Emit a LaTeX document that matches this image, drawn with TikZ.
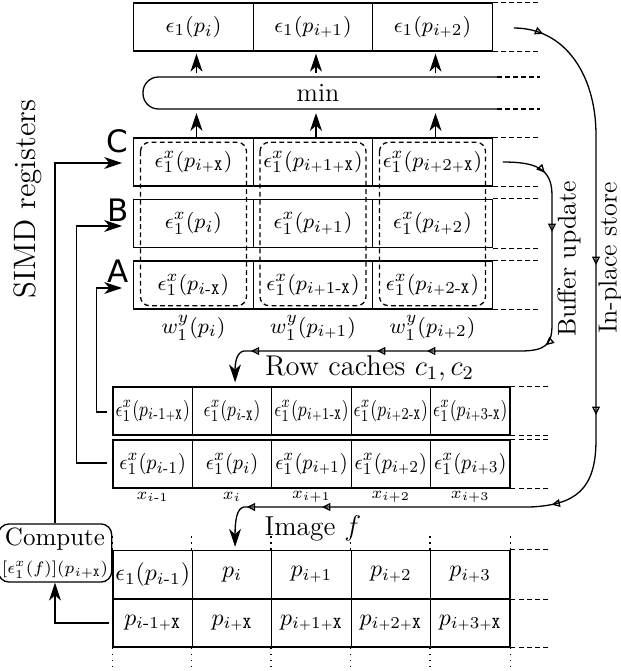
\documentclass[tikz,border=0pt]{standalone}
\usepackage{amsmath}
\usepackage{fontspec}
\newfontfamily\lblsans{DejaVu Sans}
\usetikzlibrary{arrows.meta,calc,decorations.markings}
\newcommand\mktri{\arrow{Triangle[open,length=3.5pt,width=3.3pt]}}
\newcommand\tX{\mathtt{X}}
\newcommand\mi{\text{-}}
\newcommand\pl{\mathbin{\scriptscriptstyle+}}
\newcommand\cz[1]{\makebox[0pt][c]{\scalebox{0.8}[1]{#1}}}
\newcommand\cy[1]{\makebox[0pt][c]{\scalebox{0.92}[1]{#1}}}
\begin{document}
\begin{tikzpicture}[x=0.42pt,y=-0.42pt,line width=0.55pt,
  cellbase/.style={draw,inner sep=0pt,minimum height=20.2pt,font=\fontsize{9.5}{11}\selectfont},
  wcell/.style={cellbase,minimum width=50.2pt},
  ncell/.style={cellbase,minimum width=33.35pt},
  rcell/.style={ncell,font=\fontsize{9.3}{10}\selectfont},
  fcell/.style={ncell,font=\fontsize{10}{12}\selectfont},
  dext/.style={dash pattern=on 2pt off 1.4pt},
  arr/.style={-{Stealth[length=7.5pt,width=5pt,inset=2.2pt]}},
  mkd/.style={postaction={decorate},decoration={markings,#1}},
  lbl/.style={font=\lblsans\fontsize{13}{15}\selectfont,inner sep=0pt},
  txt/.style={font=\fontsize{9.5}{11}\selectfont},
]
\useasboundingbox (0,0) rectangle (621,671);

% ---- top row
\node[wcell] (T1) at (193.5,27) {$\epsilon_1(p_i)$};
\node[wcell] (T2) at (313,27) {$\epsilon_1(p_{i\pl1})$};
\node[wcell] (T3) at (432.5,27) {$\epsilon_1(p_{i\pl2})$};
\draw[dext] (T3.north east) -- ++(48,0);
\draw[dext] (T3.south east) -- ++(48,0);

% ---- min
\node[font=\fontsize{11}{13}\selectfont] (min) at (318,93) {min};
\draw[rounded corners=6.5pt] (497,77) coordinate (minTR) -- (143,77) -- (143,109) -- (497,109) coordinate (minBR);
\draw[dext] (minTR) -- ++(43,0);
\draw[dext] (minBR) -- ++(43,0);

% ---- registers
\node[wcell] (C1) at (193.5,162) {$\epsilon^x_1(p_{i\pl\tX})$};
\node[wcell] (C2) at (313,162) {$\epsilon^x_1(p_{i\pl1\pl\tX})$};
\node[wcell] (C3) at (432.5,162) {$\epsilon^x_1(p_{i\pl2\pl\tX})$};
\node[wcell] (B1) at (193.5,223.5) {$\epsilon^x_1(p_{i})$};
\node[wcell] (B2) at (313,223.5) {$\epsilon^x_1(p_{i\pl1})$};
\node[wcell] (B3) at (432.5,223.5) {$\epsilon^x_1(p_{i\pl2})$};
\node[wcell] (A1) at (193.5,285) {$\epsilon^x_1(p_{i\mi\tX})$};
\node[wcell] (A2) at (313,285) {$\epsilon^x_1(p_{i\pl1\mi\tX})$};
\node[wcell] (A3) at (432.5,285) {$\epsilon^x_1(p_{i\pl2\mi\tX})$};
\foreach \n in {C3,B3,A3}{
  \draw[dext] (\n.north east) -- ++(48,0);
  \draw[dext] (\n.south east) -- ++(48,0);
}
\foreach \i in {1,2,3}{
  \draw[dext,rounded corners=3.8pt] ($(C\i.north)+(-53,5)$) rectangle ($(A\i.south)+(53,-4)$);
  \draw[arr] ($(C\i.north)+(3,0)$) -- ($(C\i.north |- minBR)+(3,4)$);
  \draw[arr] ($(C\i.north |- minTR)+(3,-4)$) -- ($(T\i.south)+(3,2)$);
}
\node[txt] (W1) at ($(A1.south)+(0,18)$) {$w^y_1(p_i)$};
\node[txt] (W2) at ($(A2.south)+(0,18)$) {$w^y_1(p_{i\pl1})$};
\node[txt] (W3) at ($(A3.south)+(0,18)$) {$w^y_1(p_{i\pl2})$};

\node[lbl] (lC) at (117,141) {C};
\node[lbl] (lB) at (118,210) {B};
\node[lbl] (lA) at (118,271) {A};

% ---- row caches
\node[font=\fontsize{12}{14}\selectfont] (rc) at (369.5,368) {Row caches $c_1, c_2$};
\node[rcell] (R1) at (152.7,411) {\cz{$\epsilon^x_1(p_{i\mi1\pl\tX})$}};
\node[rcell] (R2) at (232.1,411) {\cz{$\epsilon^x_1(p_{i\mi\tX})$}};
\node[rcell] (R3) at (311.5,411) {\cz{$\epsilon^x_1(p_{i\pl1\mi\tX})$}};
\node[rcell] (R4) at (390.9,411) {\cz{$\epsilon^x_1(p_{i\pl2\mi\tX})$}};
\node[rcell] (R5) at (470.3,411) {\cz{$\epsilon^x_1(p_{i\pl3\mi\tX})$}};
\node[rcell] (S1) at (152.7,464) {\cy{$\epsilon^x_1(p_{i\mi1})$}};
\node[rcell] (S2) at (232.1,464) {\cy{$\epsilon^x_1(p_{i})$}};
\node[rcell] (S3) at (311.5,464) {\cy{$\epsilon^x_1(p_{i\pl1})$}};
\node[rcell] (S4) at (390.9,464) {\cy{$\epsilon^x_1(p_{i\pl2})$}};
\node[rcell] (S5) at (470.3,464) {\cy{$\epsilon^x_1(p_{i\pl3})$}};
\foreach \n in {R5,S5}{
  \draw[dext] (\n.north east) -- ++(38,0);
  \draw[dext] (\n.south east) -- ++(38,0);
}
\node[font=\fontsize{7}{8}\selectfont] (X1) at ($(S1.south)+(0,8)$) {$x_{i\mi1}$};
\node[font=\fontsize{7}{8}\selectfont] (X2) at ($(S2.south)+(0,8)$) {$x_{i}$};
\node[font=\fontsize{7}{8}\selectfont] (X3) at ($(S3.south)+(0,8)$) {$x_{i\pl1}$};
\node[font=\fontsize{7}{8}\selectfont] (X4) at ($(S4.south)+(0,8)$) {$x_{i\pl2}$};
\node[font=\fontsize{7}{8}\selectfont] (X5) at ($(S5.south)+(0,8)$) {$x_{i\pl3}$};

% ---- image f
\node[font=\fontsize{11.5}{13}\selectfont] (imf) at (313,528) {Image $f$};
\node[fcell] (F1) at (152.7,574.5) {$\epsilon_1(p_{i\mi1})$};
\node[fcell] (F2) at (232.1,574.5) {$p_i$};
\node[fcell] (F3) at (311.5,574.5) {$p_{i\pl1}$};
\node[fcell] (F4) at (390.9,574.5) {$p_{i\pl2}$};
\node[fcell] (F5) at (470.3,574.5) {$p_{i\pl3}$};
\node[fcell] (F6) at (152.7,623) {$p_{i\mi1\pl\tX}$};
\node[fcell] (F7) at (232.1,623) {$p_{i\pl\tX}$};
\node[fcell] (F8) at (311.5,623) {$p_{i\pl1\pl\tX}$};
\node[fcell] (F9) at (390.9,623) {$p_{i\pl2\pl\tX}$};
\node[fcell] (F10) at (470.3,623) {$p_{i\pl3\pl\tX}$};
\draw[dext] (F5.north east) -- ++(40,0);
\draw[dext] (F5.south east) -- ++(40,0);
\draw[dext] (F10.south east) -- ++(40,0);
\foreach \n in {F1,F2,F3,F4,F5}{\draw[dotted] (\n.north west) -- ++(0,-18);}
\draw[dotted] (F5.north east) -- ++(0,-18);
\foreach \n in {F6,F7,F8,F9,F10}{\draw[dotted] (\n.south west) -- ++(0,20);}
\draw[dotted] (F10.south east) -- ++(0,20);

% ---- compute
\node[draw,rounded corners=4.5pt,align=center,inner sep=1.5pt,minimum width=40.7pt,minimum height=21.8pt,font=\fontsize{10.5}{10.5}\selectfont] (Comp) at (55,553)
  {Compute\\[1.5pt]{\fontsize{7.2}{8}\selectfont$[\epsilon^x_1(f)](p_{i\pl\tX})$}};

% ---- side labels
\node[rotate=90,inner sep=0pt,font=\fontsize{13}{15}\selectfont] (simd) at (28,199) {SIMD registers};
\node[rotate=90,inner sep=0pt,font=\fontsize{10.8}{13}\selectfont] (buf) at (569,259) {Buffer update};
\node[rotate=90,inner sep=0pt,font=\fontsize{11}{13}\selectfont] (inp) at (610,258) {In-place store};

% ---- SIMD connectors
\draw[arr] (Comp.north) |- ($(C1.west)+(-11,1)$);
\draw[arr] ($(S1.west)+(-5,-1)$) -- ++(-31,0) |- ($(B1.west)+(-11,2.5)$);
\draw[arr] ($(R1.west)+(-5,1)$) -- ++(-11,0) |- ($(A1.west)+(-11,3)$);
\draw[arr] ($(F6.west)+(-3,0)$) -| (Comp.south);

% ---- buffer update
\draw[arr] ($(C3.east)+(10,0)$) .. controls (535,162) and (552,168) .. (552,195) -- (552,325)
  .. controls (552,345) and (545,351) .. (520,351) -- (244,351)
  .. controls (237,352) and (235,362) .. ($(R2.north)+(3,-4)$);
\path[mkd={mark=at position 0.65 with {\mktri}}] ($(C3.east)+(10,0)$) .. controls (535,162) and (552,168) .. (552,195);
\path[mkd={mark=at position 0.285 with {\mktri}}] (552,195) -- (552,325);
\path[mkd={mark=at position 0.45 with {\mktri}}] (552,325) .. controls (552,345) and (545,351) .. (520,351);
\path[mkd={mark=at position 0.337 with {\mktri},mark=at position 0.518 with {\mktri},mark=at position 0.975 with {\mktri}}] (520,351) -- (244,351);

% ---- in-place store
\draw[arr] ($(T3.east)+(21,1)$) .. controls (565,28) and (596,75) .. (596,135) -- (596,440)
  .. controls (596,490) and (575,505) .. (530,507) -- (244,507)
  .. controls (237,508) and (235,520) .. ($(F2.north)+(3,-3)$);
\path[mkd={mark=at position 0.2 with {\mktri}}] ($(T3.east)+(21,1)$) .. controls (565,28) and (596,75) .. (596,135);
\path[mkd={mark=at position 0.426 with {\mktri},mark=at position 0.918 with {\mktri}}] (596,135) -- (596,440);
\path[mkd={mark=at position 0.8 with {\mktri}}] (596,440) .. controls (596,490) and (575,505) .. (530,507);
\path[mkd={mark=at position 0.727 with {\mktri},mark=at position 0.99 with {\mktri}}] (530,507) -- (244,507);
\end{tikzpicture}
\end{document}
